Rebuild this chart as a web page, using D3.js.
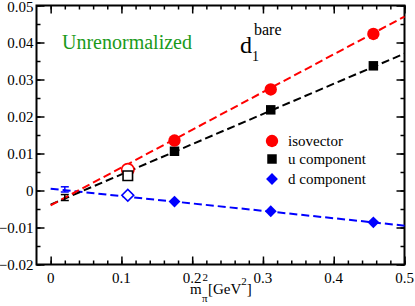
<!DOCTYPE html>
<html>
<head>
<meta charset="utf-8">
<script src="https://cdn.jsdelivr.net/npm/d3@7"></script>
<style>
body { margin: 0; background: #fff; }
</style>
</head>
<body>
<svg id="chart" width="415" height="306"></svg>
<script>
// x values (m_pi^2 in GeV^2)
var xFilled = [0.175, 0.311, 0.456];
var xOpen = 0.109;
var xChiral = 0.02;

// isovector
var isoFilled = [0.0135, 0.0273, 0.0423];
var isoOpen = 0.0056;
var isoFit = [-0.0040, 0.0470];

// u component
var uFilled = [0.0106, 0.0218, 0.0337];
var uOpen = 0.0040;
var uChiral = [-0.0019, 0.0008];
var uFit = [-0.0038, 0.0370];

// d component
var dFilled = [-0.0030, -0.0056, -0.0086];
var dOpen = -0.0013;
var dChiral = [0.0003, 0.0007];
var dFit = [0.0005, -0.0095];

var xTicks = [0, 0.1, 0.2, 0.3, 0.4, 0.5];
var yTicks = [-0.02, -0.01, 0, 0.01, 0.02, 0.03, 0.04, 0.05];

var FONT = "Liberation Serif";
var svg = d3.select("#chart");
var pLeft = 36.5, pRight = 404.5, pTop = 5.5, pBottom = 264.5;

var x = d3.scaleLinear().domain([-0.02, 0.5]).range([pLeft, pRight]);
var y = d3.scaleLinear().domain([-0.02, 0.05]).range([pBottom, pTop]);

var fmtY = function(d){ return d === 0 ? "0" : d3.format(".2f")(d); };
var fmtX = function(d){ return d === 0 ? "0" : d3.format(".1f")(d); };

function txt(xp, yp, size, s) {
  return svg.append("text").attr("x", xp).attr("y", yp)
    .attr("font-family", FONT).attr("font-size", size).text(s);
}

// inward ticks on all four sides
function ticks(axis, sc, pos, major, minor) {
  [[minor, 4], [major, 8]].forEach(function(t){
    var g = svg.append("g").attr("transform", pos)
      .call(axis(sc).tickValues(t[0]).tickSize(-t[1]).tickFormat(""));
    g.select(".domain").remove();
    g.selectAll(".tick line").attr("stroke", "#000").attr("stroke-width", 1.5);
  });
}
var xMinor = d3.range(0, 0.5001, 0.02).map(function(v){ return +v.toFixed(2); });
var yMinor = d3.range(-0.02, 0.0501, 0.005).map(function(v){ return +v.toFixed(3); });

ticks(d3.axisBottom, x, "translate(0," + pBottom + ")", xTicks, xMinor);
ticks(d3.axisTop, x, "translate(0," + pTop + ")", xTicks, xMinor);
ticks(d3.axisLeft, y, "translate(" + pLeft + ",0)", yTicks, yMinor);
ticks(d3.axisRight, y, "translate(" + pRight + ",0)", yTicks, yMinor);

svg.append("rect").attr("x", pLeft).attr("y", pTop)
  .attr("width", pRight - pLeft).attr("height", pBottom - pTop)
  .attr("fill", "none").attr("stroke", "#000").attr("stroke-width", 2);

xTicks.forEach(function(d){
  txt(x(d), pBottom + 18, 15, fmtX(d)).attr("text-anchor", "middle");
});
yTicks.forEach(function(d){
  txt(pLeft - 3, Math.max(y(d) + 5, 12), 15, fmtY(d)).attr("text-anchor", "end");
});

// x label: m_pi^2 [GeV^2]
txt(190, 294, 15, "m");
txt(202.5, 281, 11, "2");
txt(202, 302, 11, "π");
var gev = txt(208, 294, 15, "[GeV");
var gx = 208 + gev.node().getComputedTextLength();
txt(gx, 285, 11, "2");
txt(gx + 5.5, 294, 15, "]");

// fit lines
function fit(vals, color) {
  svg.append("line")
    .attr("x1", x(0)).attr("y1", y(vals[0]))
    .attr("x2", x(0.5)).attr("y2", y(vals[1]))
    .attr("stroke", color).attr("stroke-width", 2)
    .attr("stroke-dasharray", "8,4");
}
fit(dFit, "#0000ff");
fit(uFit, "#000");
fit(isoFit, "#ff0000");

// error bars
function errbar(xv, yv, err, color) {
  var g = svg.append("g").attr("stroke", color).attr("stroke-width", 1.5);
  g.append("line").attr("x1", x(xv)).attr("x2", x(xv)).attr("y1", y(yv - err)).attr("y2", y(yv + err));
  [yv - err, yv + err].forEach(function(v){
    g.append("line").attr("x1", x(xv) - 4).attr("x2", x(xv) + 4).attr("y1", y(v)).attr("y2", y(v));
  });
}
errbar(xChiral, uChiral[0], uChiral[1], "#000");
errbar(xChiral, dChiral[0], dChiral[1], "#0000ff");

// markers (diamond = square rotated 45deg)
var sym = {
  circle: d3.symbol().type(d3.symbolCircle).size(120),
  square: d3.symbol().type(d3.symbolSquare).size(90),
  diamond: d3.symbol().type(d3.symbolSquare).size(70)
};
var rot = { circle: "", square: "", diamond: " rotate(45)" };
function pts(xs, ys, s, color, open) {
  svg.selectAll(null).data(xs).enter().append("path")
    .attr("d", sym[s])
    .attr("transform", function(d, i){ return "translate(" + x(d) + "," + y(ys[i]) + ")" + rot[s]; })
    .attr("fill", open ? "#fff" : color)
    .attr("stroke", color).attr("stroke-width", open ? 1.6 : 0);
}
pts([xOpen], [isoOpen], "circle", "#ff0000", true);
pts([xOpen], [uOpen], "square", "#000", true);
pts([xOpen], [dOpen], "diamond", "#0000ff", true);
pts(xFilled, dFilled, "diamond", "#0000ff", false);
pts(xFilled, uFilled, "square", "#000", false);
pts(xFilled, isoFilled, "circle", "#ff0000", false);

// legend
var legNames = ["isovector", "u component", "d component"];
var legSym = ["circle", "square", "diamond"];
var legCol = ["#ff0000", "#000", "#0000ff"];
var legY = [141, 159, 179];
legNames.forEach(function(n, i){
  svg.append("path").attr("d", sym[legSym[i]])
    .attr("transform", "translate(272," + legY[i] + ")" + rot[legSym[i]])
    .attr("fill", legCol[i]);
  txt(288, legY[i] + 5, 15, n);
});

// annotations
txt(62, 49, 20, "Unrenormalized").attr("fill", "#1a9a1a");
txt(240, 53, 24, "d");
txt(252, 61, 14, "1");
txt(254, 35, 16, "bare");
</script>
</body>
</html>
